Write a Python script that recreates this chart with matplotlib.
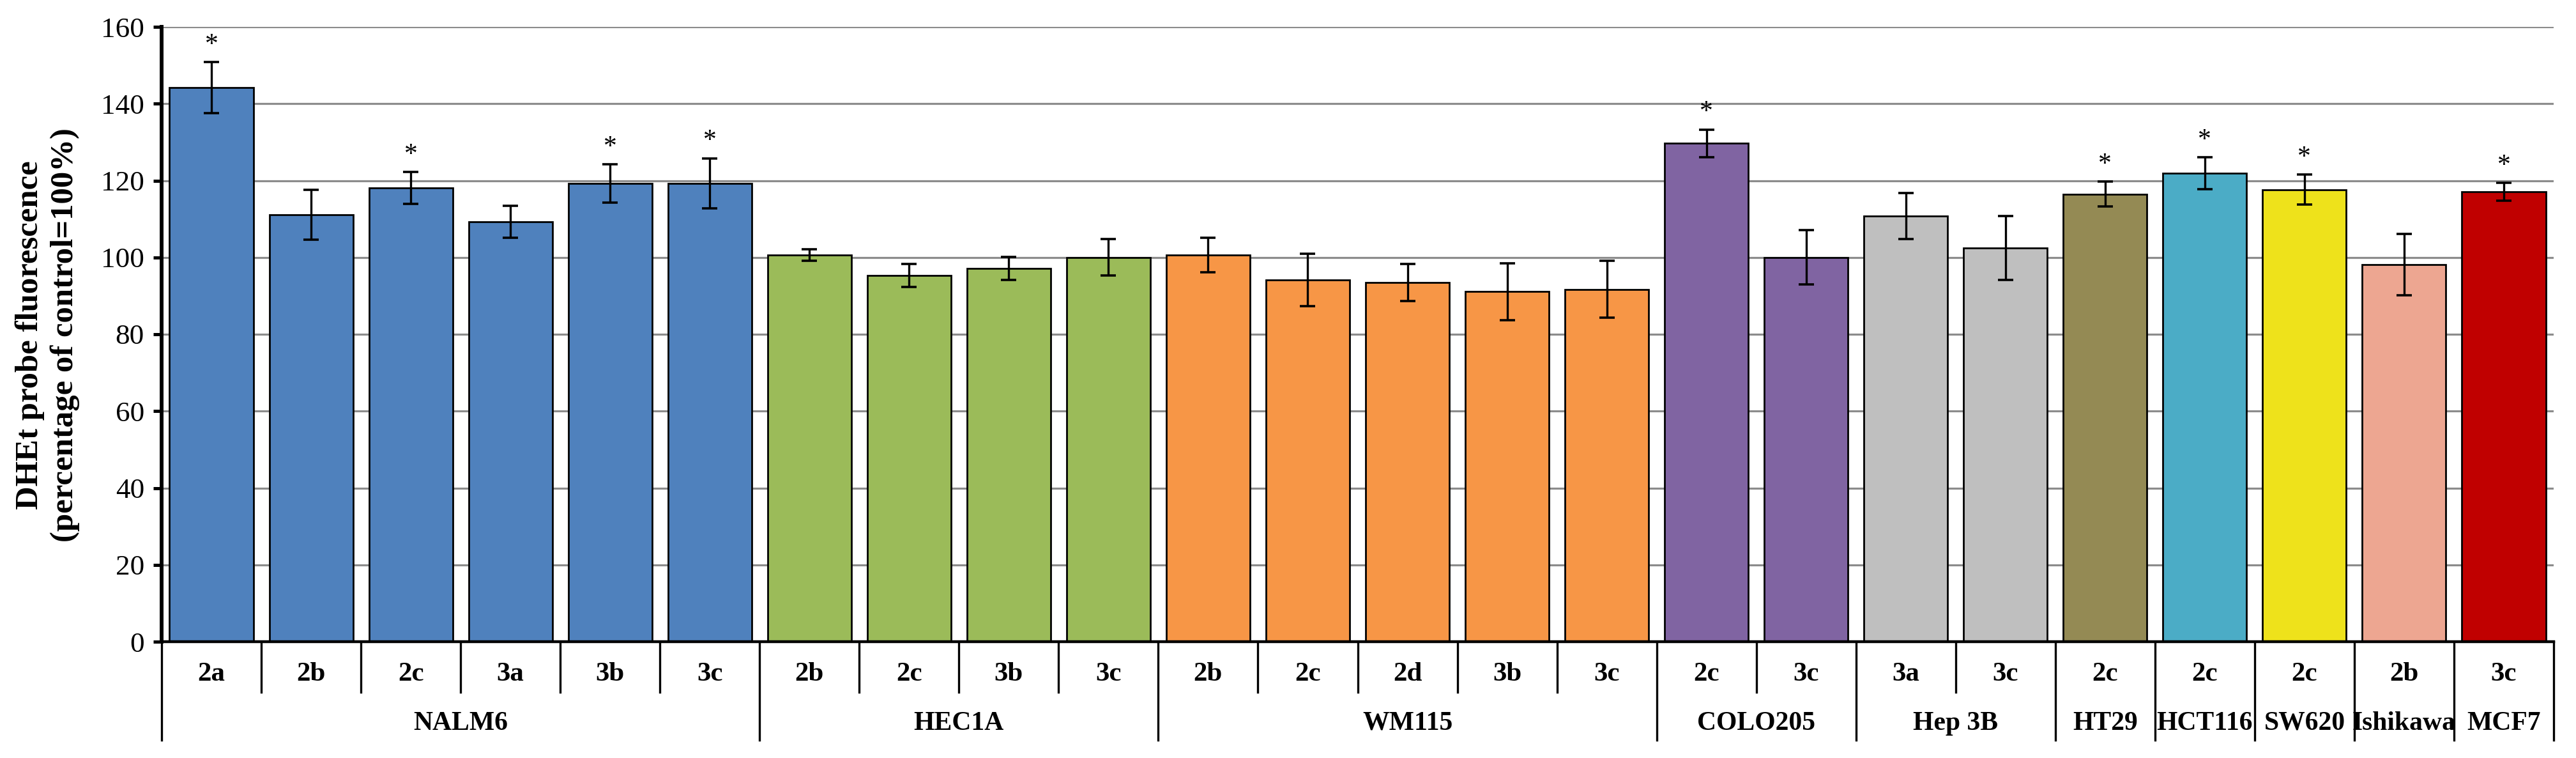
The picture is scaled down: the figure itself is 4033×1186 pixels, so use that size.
import matplotlib
matplotlib.use("Agg")
import matplotlib.pyplot as plt
import matplotlib.transforms as mtransforms

plt.rcParams['font.family'] = ['Liberation Serif', 'DejaVu Serif']

# cell lines and the compounds tested on each
groups = ['NALM6', 'HEC1A', 'WM115', 'COLO205', 'Hep 3B', 'HT29', 'HCT116', 'SW620', 'Ishikawa', 'MCF7']
compounds = [['2a', '2b', '2c', '3a', '3b', '3c'],
             ['2b', '2c', '3b', '3c'],
             ['2b', '2c', '2d', '3b', '3c'],
             ['2c', '3c'],
             ['3a', '3c'],
             ['2c'], ['2c'], ['2c'], ['2b'], ['3c']]
group_colors = ['#4F81BD', '#9BBB59', '#F79646', '#8064A2', '#BFBFBF',
                '#948A54', '#4BACC6', '#EEE21B', '#EDA691', '#C00000']

means = [144.2, 111.1, 118.1, 109.3, 119.3, 119.3,
         100.7, 95.3, 97.1, 100.0,
         100.6, 94.1, 93.5, 91.1, 91.7,
         129.7, 100.0,
         110.7, 102.4,
         116.5, 121.9, 117.6, 98.1, 117.1]
errs = [6.6, 6.5, 4.2, 4.2, 5.0, 6.5,
        1.5, 3.0, 3.0, 4.7,
        4.5, 6.8, 4.8, 7.4, 7.4,
        3.6, 7.1,
        6.0, 8.3,
        3.2, 4.1, 3.9, 8.0, 2.3]
signif = [1, 0, 1, 0, 1, 1,
          0, 0, 0, 0,
          0, 0, 0, 0, 0,
          1, 0,
          0, 0,
          1, 1, 1, 0, 1]

labels = [c for g in compounds for c in g]
colors = [group_colors[i] for i, g in enumerate(compounds) for _ in g]
x = list(range(len(labels)))

fig = plt.figure(figsize=(40.33, 11.86), dpi=100)
ax = fig.add_axes([253 / 4033, 1 - 1004 / 1186, (3998 - 253) / 4033, (1004 - 42) / 1186])

ax.bar(x, means, width=0.84, color=colors, edgecolor='black', linewidth=2, zorder=2)
ax.errorbar(x, means, yerr=errs, fmt='none', ecolor='black', elinewidth=2.4,
            capsize=8.5, capthick=2.6, zorder=3)

for xi, m, e, s in zip(x, means, errs, signif):
    if s:
        ax.annotate('*', xy=(xi, m + e), xytext=(0, 19), textcoords='offset points',
                    ha='center', va='center', fontsize=30)

ax.set_xlim(-0.5, len(labels) - 0.5)
ax.set_ylim(0, 160)
ax.set_yticks(range(0, 161, 20))
ax.yaxis.grid(True, color='#8C8C8C', linewidth=2.3, zorder=0)
ax.set_axisbelow(True)
for s in ['top', 'right']:
    ax.spines[s].set_visible(False)
ax.spines['left'].set_linewidth(4.3)
ax.spines['bottom'].set_linewidth(3.2)
ax.tick_params(axis='y', direction='out', length=9.5, width=3.6, labelsize=32.5, pad=10)
ax.tick_params(axis='x', length=0, labelbottom=False)

fig.text(74 / 4033, 1 - 524 / 1186, 'DHEt probe fluorescence\n(percentage of control=100%)',
         rotation=90, ha='center', va='center', fontsize=36.5, fontweight='bold',
         linespacing=1.23, multialignment='center')

# two-level category axis below the bars
trans = mtransforms.blended_transform_factory(ax.transData, ax.transAxes)
for xi, lab in zip(x, labels):
    ax.text(xi, -0.053, lab, transform=trans, ha='center', va='center',
            fontsize=31, fontweight='bold')

start = 0
for g, comps in zip(groups, compounds):
    end = start + len(comps)
    ax.plot([start - 0.5, start - 0.5], [0, -0.160], transform=trans, color='black',
            linewidth=2.4, clip_on=False)
    for k in range(start + 1, end):
        ax.plot([k - 0.5, k - 0.5], [0, -0.082], transform=trans, color='black',
                linewidth=2.4, clip_on=False)
    ax.text((start + end - 1) / 2, -0.133, g, transform=trans, ha='center', va='center',
            fontsize=30, fontweight='bold')
    start = end
ax.plot([start - 0.5, start - 0.5], [0, -0.160], transform=trans, color='black',
        linewidth=2.4, clip_on=False)

fig.savefig('out.png', dpi=100)
